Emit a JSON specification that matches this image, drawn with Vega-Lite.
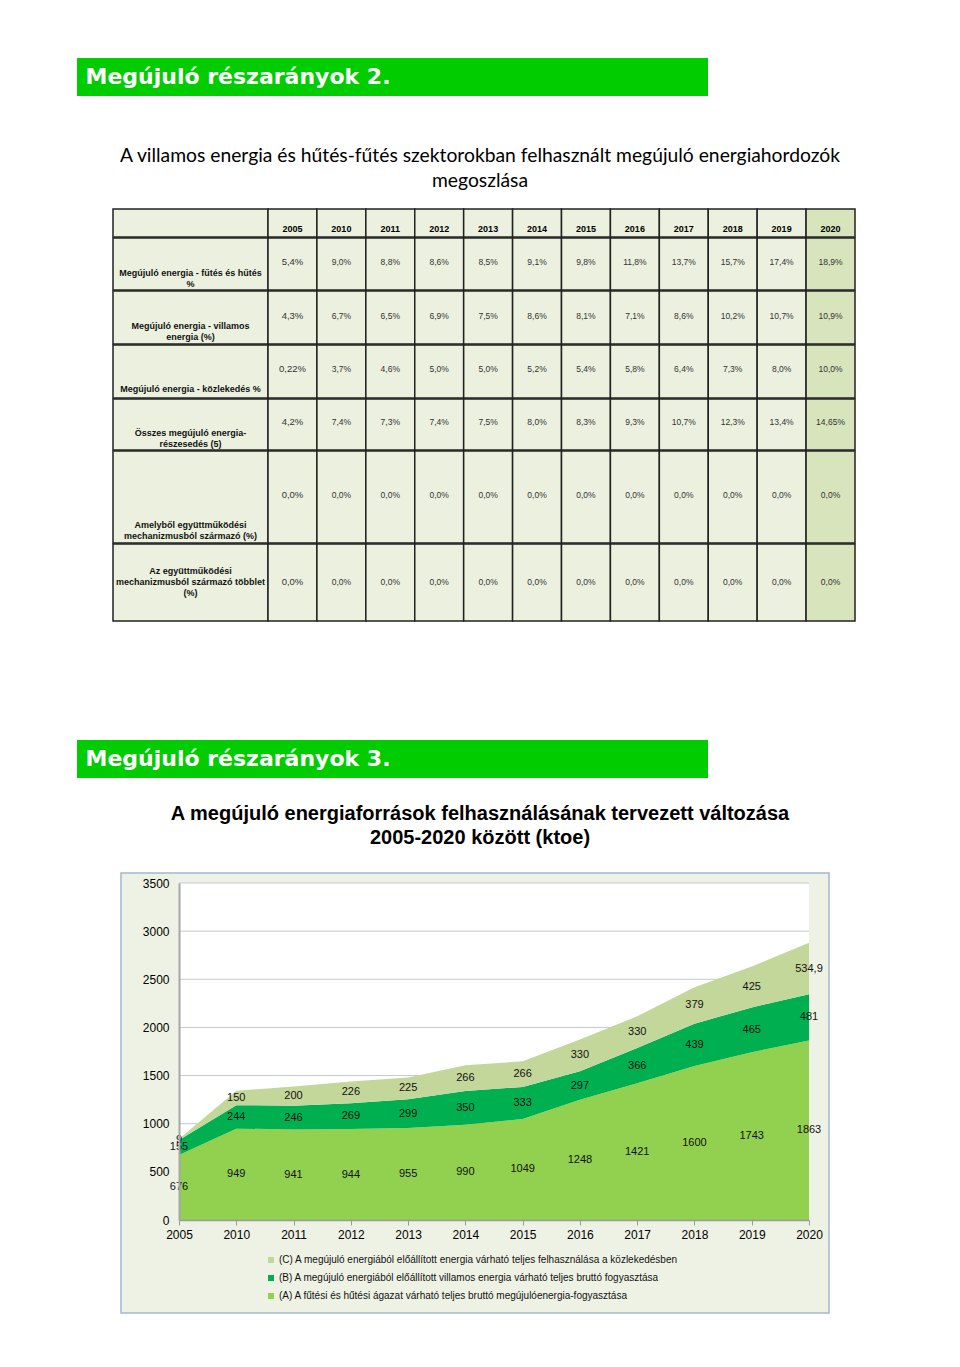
{
  "$schema": "https://vega.github.io/schema/vega-lite/v6.json",
  "padding": {"left": 77, "top": 58, "right": 0, "bottom": 0},
  "background": "white",
  "spacing": 0,
  "config": {
    "view": {"stroke": null},
    "font": "Liberation Sans",
    "locale": {"number": {"decimal": ",", "thousands": " ", "grouping": [3], "currency": ["", " Ft"]}}
  },
  "datasets": {
    "tbl": [
      {"r": 1, "year": "2005", "v": "5,4%"}, {"r": 1, "year": "2010", "v": "9,0%"}, {"r": 1, "year": "2011", "v": "8,8%"}, {"r": 1, "year": "2012", "v": "8,6%"}, {"r": 1, "year": "2013", "v": "8,5%"}, {"r": 1, "year": "2014", "v": "9,1%"}, {"r": 1, "year": "2015", "v": "9,8%"}, {"r": 1, "year": "2016", "v": "11,8%"}, {"r": 1, "year": "2017", "v": "13,7%"}, {"r": 1, "year": "2018", "v": "15,7%"}, {"r": 1, "year": "2019", "v": "17,4%"}, {"r": 1, "year": "2020", "v": "18,9%"},
      {"r": 2, "year": "2005", "v": "4,3%"}, {"r": 2, "year": "2010", "v": "6,7%"}, {"r": 2, "year": "2011", "v": "6,5%"}, {"r": 2, "year": "2012", "v": "6,9%"}, {"r": 2, "year": "2013", "v": "7,5%"}, {"r": 2, "year": "2014", "v": "8,6%"}, {"r": 2, "year": "2015", "v": "8,1%"}, {"r": 2, "year": "2016", "v": "7,1%"}, {"r": 2, "year": "2017", "v": "8,6%"}, {"r": 2, "year": "2018", "v": "10,2%"}, {"r": 2, "year": "2019", "v": "10,7%"}, {"r": 2, "year": "2020", "v": "10,9%"},
      {"r": 3, "year": "2005", "v": "0,22%"}, {"r": 3, "year": "2010", "v": "3,7%"}, {"r": 3, "year": "2011", "v": "4,6%"}, {"r": 3, "year": "2012", "v": "5,0%"}, {"r": 3, "year": "2013", "v": "5,0%"}, {"r": 3, "year": "2014", "v": "5,2%"}, {"r": 3, "year": "2015", "v": "5,4%"}, {"r": 3, "year": "2016", "v": "5,8%"}, {"r": 3, "year": "2017", "v": "6,4%"}, {"r": 3, "year": "2018", "v": "7,3%"}, {"r": 3, "year": "2019", "v": "8,0%"}, {"r": 3, "year": "2020", "v": "10,0%"},
      {"r": 4, "year": "2005", "v": "4,2%"}, {"r": 4, "year": "2010", "v": "7,4%"}, {"r": 4, "year": "2011", "v": "7,3%"}, {"r": 4, "year": "2012", "v": "7,4%"}, {"r": 4, "year": "2013", "v": "7,5%"}, {"r": 4, "year": "2014", "v": "8,0%"}, {"r": 4, "year": "2015", "v": "8,3%"}, {"r": 4, "year": "2016", "v": "9,3%"}, {"r": 4, "year": "2017", "v": "10,7%"}, {"r": 4, "year": "2018", "v": "12,3%"}, {"r": 4, "year": "2019", "v": "13,4%"}, {"r": 4, "year": "2020", "v": "14,65%"},
      {"r": 5, "year": "2005", "v": "0,0%"}, {"r": 5, "year": "2010", "v": "0,0%"}, {"r": 5, "year": "2011", "v": "0,0%"}, {"r": 5, "year": "2012", "v": "0,0%"}, {"r": 5, "year": "2013", "v": "0,0%"}, {"r": 5, "year": "2014", "v": "0,0%"}, {"r": 5, "year": "2015", "v": "0,0%"}, {"r": 5, "year": "2016", "v": "0,0%"}, {"r": 5, "year": "2017", "v": "0,0%"}, {"r": 5, "year": "2018", "v": "0,0%"}, {"r": 5, "year": "2019", "v": "0,0%"}, {"r": 5, "year": "2020", "v": "0,0%"},
      {"r": 6, "year": "2005", "v": "0,0%"}, {"r": 6, "year": "2010", "v": "0,0%"}, {"r": 6, "year": "2011", "v": "0,0%"}, {"r": 6, "year": "2012", "v": "0,0%"}, {"r": 6, "year": "2013", "v": "0,0%"}, {"r": 6, "year": "2014", "v": "0,0%"}, {"r": 6, "year": "2015", "v": "0,0%"}, {"r": 6, "year": "2016", "v": "0,0%"}, {"r": 6, "year": "2017", "v": "0,0%"}, {"r": 6, "year": "2018", "v": "0,0%"}, {"r": 6, "year": "2019", "v": "0,0%"}, {"r": 6, "year": "2020", "v": "0,0%"}
    ],
    "labels": [
      {"r": 0, "label": ""},
      {"r": 1, "label": "Megújuló energia - fűtés és hűtés\n%"},
      {"r": 2, "label": "Megújuló energia - villamos\nenergia (%)"},
      {"r": 3, "label": "Megújuló energia - közlekedés %"},
      {"r": 4, "label": "Összes megújuló energia-\nrészesedés (5)"},
      {"r": 5, "label": "Amelyből együttműködési\nmechanizmusból származó (%)"},
      {"r": 6, "label": "Az együttműködési\nmechanizmusból származó többlet\n(%)"}
    ],
    "chart": [
      {"year": "2005", "series": "(A) A fűtési és hűtési ágazat várható teljes bruttó megújulóenergia-fogyasztása", "value": 676},
      {"year": "2010", "series": "(A) A fűtési és hűtési ágazat várható teljes bruttó megújulóenergia-fogyasztása", "value": 949},
      {"year": "2011", "series": "(A) A fűtési és hűtési ágazat várható teljes bruttó megújulóenergia-fogyasztása", "value": 941},
      {"year": "2012", "series": "(A) A fűtési és hűtési ágazat várható teljes bruttó megújulóenergia-fogyasztása", "value": 944},
      {"year": "2013", "series": "(A) A fűtési és hűtési ágazat várható teljes bruttó megújulóenergia-fogyasztása", "value": 955},
      {"year": "2014", "series": "(A) A fűtési és hűtési ágazat várható teljes bruttó megújulóenergia-fogyasztása", "value": 990},
      {"year": "2015", "series": "(A) A fűtési és hűtési ágazat várható teljes bruttó megújulóenergia-fogyasztása", "value": 1049},
      {"year": "2016", "series": "(A) A fűtési és hűtési ágazat várható teljes bruttó megújulóenergia-fogyasztása", "value": 1248},
      {"year": "2017", "series": "(A) A fűtési és hűtési ágazat várható teljes bruttó megújulóenergia-fogyasztása", "value": 1421},
      {"year": "2018", "series": "(A) A fűtési és hűtési ágazat várható teljes bruttó megújulóenergia-fogyasztása", "value": 1600},
      {"year": "2019", "series": "(A) A fűtési és hűtési ágazat várható teljes bruttó megújulóenergia-fogyasztása", "value": 1743},
      {"year": "2020", "series": "(A) A fűtési és hűtési ágazat várható teljes bruttó megújulóenergia-fogyasztása", "value": 1863},
      {"year": "2005", "series": "(B) A megújuló energiából előállított villamos energia várható teljes bruttó fogyasztása", "value": 155},
      {"year": "2010", "series": "(B) A megújuló energiából előállított villamos energia várható teljes bruttó fogyasztása", "value": 244},
      {"year": "2011", "series": "(B) A megújuló energiából előállított villamos energia várható teljes bruttó fogyasztása", "value": 246},
      {"year": "2012", "series": "(B) A megújuló energiából előállított villamos energia várható teljes bruttó fogyasztása", "value": 269},
      {"year": "2013", "series": "(B) A megújuló energiából előállított villamos energia várható teljes bruttó fogyasztása", "value": 299},
      {"year": "2014", "series": "(B) A megújuló energiából előállított villamos energia várható teljes bruttó fogyasztása", "value": 350},
      {"year": "2015", "series": "(B) A megújuló energiából előállított villamos energia várható teljes bruttó fogyasztása", "value": 333},
      {"year": "2016", "series": "(B) A megújuló energiából előállított villamos energia várható teljes bruttó fogyasztása", "value": 297},
      {"year": "2017", "series": "(B) A megújuló energiából előállított villamos energia várható teljes bruttó fogyasztása", "value": 366},
      {"year": "2018", "series": "(B) A megújuló energiából előállított villamos energia várható teljes bruttó fogyasztása", "value": 439},
      {"year": "2019", "series": "(B) A megújuló energiából előállított villamos energia várható teljes bruttó fogyasztása", "value": 465},
      {"year": "2020", "series": "(B) A megújuló energiából előállított villamos energia várható teljes bruttó fogyasztása", "value": 481},
      {"year": "2005", "series": "(C) A megújuló energiából előállított energia várható teljes felhasználása a közlekedésben", "value": 9},
      {"year": "2010", "series": "(C) A megújuló energiából előállított energia várható teljes felhasználása a közlekedésben", "value": 150},
      {"year": "2011", "series": "(C) A megújuló energiából előállított energia várható teljes felhasználása a közlekedésben", "value": 200},
      {"year": "2012", "series": "(C) A megújuló energiából előállított energia várható teljes felhasználása a közlekedésben", "value": 226},
      {"year": "2013", "series": "(C) A megújuló energiából előállított energia várható teljes felhasználása a közlekedésben", "value": 225},
      {"year": "2014", "series": "(C) A megújuló energiából előállított energia várható teljes felhasználása a közlekedésben", "value": 266},
      {"year": "2015", "series": "(C) A megújuló energiából előállított energia várható teljes felhasználása a közlekedésben", "value": 266},
      {"year": "2016", "series": "(C) A megújuló energiából előállított energia várható teljes felhasználása a közlekedésben", "value": 330},
      {"year": "2017", "series": "(C) A megújuló energiából előállított energia várható teljes felhasználása a közlekedésben", "value": 330},
      {"year": "2018", "series": "(C) A megújuló energiából előállított energia várható teljes felhasználása a közlekedésben", "value": 379},
      {"year": "2019", "series": "(C) A megújuló energiából előállított energia várható teljes felhasználása a közlekedésben", "value": 425},
      {"year": "2020", "series": "(C) A megújuló energiából előállított energia várható teljes felhasználása a közlekedésben", "value": 534.9}
    ]
  },
  "vconcat": [
    {
      "width": 631, "height": 38,
      "view": {"fill": "#00cc00", "stroke": null},
      "data": {"values": [{"t": "Megújuló részarányok 2."}]},
      "mark": {"type": "text", "align": "left", "baseline": "middle", "dx": -307, "font": "DejaVu Sans", "fontWeight": "bold", "fontSize": 22, "color": "white"},
      "encoding": {"text": {"field": "t"}}
    },
    {
      "width": 806, "height": 112,
      "data": {"values": [{"t": "A villamos energia és hűtés-fűtés szektorokban felhasznált megújuló energiahordozók\nmegoszlása"}]},
      "mark": {"type": "text", "align": "center", "baseline": "middle", "lineBreak": "\n", "lineHeight": 25, "dy": 4, "font": "Lato", "fontSize": 19.3, "color": "black"},
      "encoding": {"text": {"field": "t"}}
    },
    {
      "spacing": 0,
      "hconcat": [
        {"width": 35, "height": 1, "data": {"values": []}, "mark": "text", "encoding": {}},
        {
          "spacing": -1.5,
          "vconcat": [
            {"spacing": 0, "bounds": "flush", "hconcat": [
              {"width": 155, "height": 28, "view": {"fill": "#ebf1de", "stroke": "#222", "strokeWidth": 1.5},
               "data": {"name": "labels"}, "transform": [{"filter": "datum.r == 0"}],
               "mark": {"type": "text", "fontSize": 9}, "encoding": {"text": {"field": "label"}}},
              {"width": 587, "height": 28, "data": {"name": "tbl"}, "transform": [{"filter": "datum.r == 1"}],
               "encoding": {"x": {"field": "year", "type": "ordinal", "axis": null, "scale": {"paddingInner": 0, "paddingOuter": 0}}},
               "layer": [
                 {"mark": {"type": "rect", "stroke": "#222", "strokeWidth": 1.5},
                  "encoding": {"fill": {"condition": {"test": "datum.year == '2020'", "value": "#d8e4bc"}, "value": "#ebf1de"}}},
                 {"mark": {"type": "text", "dy": 6, "fontWeight": "bold", "fontSize": 9, "color": "#000"},
                  "encoding": {"text": {"field": "year"}}}
               ]}
            ]},
            {"spacing": 0, "bounds": "flush", "hconcat": [
              {"width": 155, "height": 52, "view": {"fill": "#ebf1de", "stroke": "#222", "strokeWidth": 1.5},
               "data": {"name": "labels"}, "transform": [{"filter": "datum.r == 1"}],
               "mark": {"type": "text", "lineBreak": "\n", "lineHeight": 11, "dy": 8.5, "fontWeight": "bold", "fontSize": 9, "color": "#111"},
               "encoding": {"text": {"field": "label"}}},
              {"width": 587, "height": 52, "data": {"name": "tbl"}, "transform": [{"filter": "datum.r == 1"}],
               "encoding": {"x": {"field": "year", "type": "ordinal", "axis": null, "scale": {"paddingInner": 0, "paddingOuter": 0}}},
               "layer": [
                 {"mark": {"type": "rect", "stroke": "#222", "strokeWidth": 1.5},
                  "encoding": {"fill": {"condition": {"test": "datum.year == '2020'", "value": "#d8e4bc"}, "value": "#ebf1de"}}},
                 {"mark": {"type": "text", "dy": -2, "color": "#333"},
                  "encoding": {"text": {"field": "v"}, "size": {"condition": {"test": "datum.year == '2005'", "value": 9.5}, "value": 8.5}}}
               ]}
            ]},
            {"spacing": 0, "bounds": "flush", "hconcat": [
              {"width": 155, "height": 53, "view": {"fill": "#ebf1de", "stroke": "#222", "strokeWidth": 1.5},
               "data": {"name": "labels"}, "transform": [{"filter": "datum.r == 2"}],
               "mark": {"type": "text", "lineBreak": "\n", "lineHeight": 11, "dy": 8, "fontWeight": "bold", "fontSize": 9, "color": "#111"},
               "encoding": {"text": {"field": "label"}}},
              {"width": 587, "height": 53, "data": {"name": "tbl"}, "transform": [{"filter": "datum.r == 2"}],
               "encoding": {"x": {"field": "year", "type": "ordinal", "axis": null, "scale": {"paddingInner": 0, "paddingOuter": 0}}},
               "layer": [
                 {"mark": {"type": "rect", "stroke": "#222", "strokeWidth": 1.5},
                  "encoding": {"fill": {"condition": {"test": "datum.year == '2020'", "value": "#d8e4bc"}, "value": "#ebf1de"}}},
                 {"mark": {"type": "text", "dy": -2, "color": "#333"},
                  "encoding": {"text": {"field": "v"}, "size": {"condition": {"test": "datum.year == '2005'", "value": 9.5}, "value": 8.5}}}
               ]}
            ]},
            {"spacing": 0, "bounds": "flush", "hconcat": [
              {"width": 155, "height": 53, "view": {"fill": "#ebf1de", "stroke": "#222", "strokeWidth": 1.5},
               "data": {"name": "labels"}, "transform": [{"filter": "datum.r == 3"}],
               "mark": {"type": "text", "lineBreak": "\n", "lineHeight": 11, "dy": 17, "fontWeight": "bold", "fontSize": 9, "color": "#111"},
               "encoding": {"text": {"field": "label"}}},
              {"width": 587, "height": 53, "data": {"name": "tbl"}, "transform": [{"filter": "datum.r == 3"}],
               "encoding": {"x": {"field": "year", "type": "ordinal", "axis": null, "scale": {"paddingInner": 0, "paddingOuter": 0}}},
               "layer": [
                 {"mark": {"type": "rect", "stroke": "#222", "strokeWidth": 1.5},
                  "encoding": {"fill": {"condition": {"test": "datum.year == '2020'", "value": "#d8e4bc"}, "value": "#ebf1de"}}},
                 {"mark": {"type": "text", "dy": -3, "color": "#333"},
                  "encoding": {"text": {"field": "v"}, "size": {"condition": {"test": "datum.year == '2005'", "value": 9.5}, "value": 8.5}}}
               ]}
            ]},
            {"spacing": 0, "bounds": "flush", "hconcat": [
              {"width": 155, "height": 51, "view": {"fill": "#ebf1de", "stroke": "#222", "strokeWidth": 1.5},
               "data": {"name": "labels"}, "transform": [{"filter": "datum.r == 4"}],
               "mark": {"type": "text", "lineBreak": "\n", "lineHeight": 11, "dy": 8, "fontWeight": "bold", "fontSize": 9, "color": "#111"},
               "encoding": {"text": {"field": "label"}}},
              {"width": 587, "height": 51, "data": {"name": "tbl"}, "transform": [{"filter": "datum.r == 4"}],
               "encoding": {"x": {"field": "year", "type": "ordinal", "axis": null, "scale": {"paddingInner": 0, "paddingOuter": 0}}},
               "layer": [
                 {"mark": {"type": "rect", "stroke": "#222", "strokeWidth": 1.5},
                  "encoding": {"fill": {"condition": {"test": "datum.year == '2020'", "value": "#d8e4bc"}, "value": "#ebf1de"}}},
                 {"mark": {"type": "text", "dy": -3, "color": "#333"},
                  "encoding": {"text": {"field": "v"}, "size": {"condition": {"test": "datum.year == '2005'", "value": 9.5}, "value": 8.5}}}
               ]}
            ]},
            {"spacing": 0, "bounds": "flush", "hconcat": [
              {"width": 155, "height": 92, "view": {"fill": "#ebf1de", "stroke": "#222", "strokeWidth": 1.5},
               "data": {"name": "labels"}, "transform": [{"filter": "datum.r == 5"}],
               "mark": {"type": "text", "lineBreak": "\n", "lineHeight": 11, "dy": 28, "fontWeight": "bold", "fontSize": 9, "color": "#111"},
               "encoding": {"text": {"field": "label"}}},
              {"width": 587, "height": 92, "data": {"name": "tbl"}, "transform": [{"filter": "datum.r == 5"}],
               "encoding": {"x": {"field": "year", "type": "ordinal", "axis": null, "scale": {"paddingInner": 0, "paddingOuter": 0}}},
               "layer": [
                 {"mark": {"type": "rect", "stroke": "#222", "strokeWidth": 1.5},
                  "encoding": {"fill": {"condition": {"test": "datum.year == '2020'", "value": "#d8e4bc"}, "value": "#ebf1de"}}},
                 {"mark": {"type": "text", "dy": -2, "color": "#333"},
                  "encoding": {"text": {"field": "v"}, "size": {"condition": {"test": "datum.year == '2005'", "value": 9.5}, "value": 8.5}}}
               ]}
            ]},
            {"spacing": 0, "bounds": "flush", "hconcat": [
              {"width": 155, "height": 77, "view": {"fill": "#ebf1de", "stroke": "#222", "strokeWidth": 1.5},
               "data": {"name": "labels"}, "transform": [{"filter": "datum.r == 6"}],
               "mark": {"type": "text", "lineBreak": "\n", "lineHeight": 11, "dy": -12, "fontWeight": "bold", "fontSize": 9, "color": "#111"},
               "encoding": {"text": {"field": "label"}}},
              {"width": 587, "height": 77, "data": {"name": "tbl"}, "transform": [{"filter": "datum.r == 6"}],
               "encoding": {"x": {"field": "year", "type": "ordinal", "axis": null, "scale": {"paddingInner": 0, "paddingOuter": 0}}},
               "layer": [
                 {"mark": {"type": "rect", "stroke": "#222", "strokeWidth": 1.5},
                  "encoding": {"fill": {"condition": {"test": "datum.year == '2020'", "value": "#d8e4bc"}, "value": "#ebf1de"}}},
                 {"mark": {"type": "text", "dy": -1, "color": "#333"},
                  "encoding": {"text": {"field": "v"}, "size": {"condition": {"test": "datum.year == '2005'", "value": 9.5}, "value": 8.5}}}
               ]}
            ]}
          ]
        }
      ]
    },
    {"width": 1, "height": 118, "data": {"values": []}, "mark": "text", "encoding": {}},
    {
      "width": 631, "height": 38,
      "view": {"fill": "#00cc00", "stroke": null},
      "data": {"values": [{"t": "Megújuló részarányok 3."}]},
      "mark": {"type": "text", "align": "left", "baseline": "middle", "dx": -307, "font": "DejaVu Sans", "fontWeight": "bold", "fontSize": 22, "color": "white"},
      "encoding": {"text": {"field": "t"}}
    },
    {
      "width": 806, "height": 94,
      "data": {"values": [{"t": "A megújuló energiaforrások felhasználásának tervezett változása\n2005-2020 között (ktoe)"}]},
      "mark": {"type": "text", "align": "center", "baseline": "middle", "lineBreak": "\n", "lineHeight": 24, "dy": -11, "fontWeight": "bold", "fontSize": 20, "color": "black"},
      "encoding": {"text": {"field": "t"}}
    },
    {
      "spacing": 0,
      "hconcat": [
        {"width": 43, "height": 1, "data": {"values": []}, "mark": "text", "encoding": {}},
        {
          "width": 708, "height": 440,
          "view": {"fill": "#eef2e4", "stroke": "#a3b8d2", "strokeWidth": 1.5},
          "layer": [
            {
              "data": {"values": [{}]},
              "mark": {"type": "rect", "fill": "white"},
              "encoding": {
                "x": {"datum": "2005", "type": "ordinal", "scale": {"type": "point", "range": [58, 688], "padding": 0},
                      "axis": {"title": null, "orient": "bottom", "offset": -93, "zindex": 1, "labelAngle": 0, "labelFontSize": 12, "labelColor": "#000", "labelPadding": 4, "tickSize": 5, "tickColor": "#9a9a9a", "domainColor": "#9a9a9a", "domainWidth": 1.5, "grid": false}},
                "x2": {"datum": "2020"},
                "y": {"datum": 0, "type": "quantitative", "scale": {"domain": [0, 3500], "range": [347, 10], "nice": false, "zero": false},
                      "axis": {"title": null, "offset": -58, "zindex": 1, "values": [0, 500, 1000, 1500, 2000, 2500, 3000, 3500], "format": "d", "labelFontSize": 12, "labelColor": "#000", "labelPadding": 10, "ticks": false, "domainColor": "#a6a6a6", "domainWidth": 2, "grid": false}},
                "y2": {"datum": 3500}
              }
            },
            {
              "data": {"values": [{"g": 500}, {"g": 1000}, {"g": 1500}, {"g": 2000}, {"g": 2500}, {"g": 3000}, {"g": 3500}]},
              "mark": {"type": "rule", "color": "#c4c8cf", "strokeWidth": 1},
              "encoding": {
                "x": {"datum": "2005", "type": "ordinal", "scale": {"type": "point", "range": [58, 688], "padding": 0},
                      "axis": {"title": null, "orient": "bottom", "offset": -93, "zindex": 1, "labelAngle": 0, "labelFontSize": 12, "labelColor": "#000", "labelPadding": 4, "tickSize": 5, "tickColor": "#9a9a9a", "domainColor": "#9a9a9a", "domainWidth": 1.5, "grid": false}},
                "x2": {"datum": "2020"},
                "y": {"field": "g", "type": "quantitative", "scale": {"domain": [0, 3500], "range": [347, 10], "nice": false, "zero": false},
                      "axis": {"title": null, "offset": -58, "zindex": 1, "values": [0, 500, 1000, 1500, 2000, 2500, 3000, 3500], "format": "d", "labelFontSize": 12, "labelColor": "#000", "labelPadding": 10, "ticks": false, "domainColor": "#a6a6a6", "domainWidth": 2, "grid": false}}
              }
            },
            {
              "data": {"name": "chart"},
              "mark": {"type": "area", "opacity": 1},
              "encoding": {
                "x": {"field": "year", "type": "ordinal", "scale": {"type": "point", "range": [58, 688], "padding": 0},
                      "axis": {"title": null, "orient": "bottom", "offset": -93, "zindex": 1, "labelAngle": 0, "labelFontSize": 12, "labelColor": "#000", "labelPadding": 4, "tickSize": 5, "tickColor": "#9a9a9a", "domainColor": "#9a9a9a", "domainWidth": 1.5, "grid": false}},
                "y": {"field": "value", "type": "quantitative", "stack": "zero",
                      "scale": {"domain": [0, 3500], "range": [347, 10], "nice": false, "zero": false},
                      "axis": {"title": null, "offset": -58, "zindex": 1, "values": [0, 500, 1000, 1500, 2000, 2500, 3000, 3500], "format": "d", "labelFontSize": 12, "labelColor": "#000", "labelPadding": 10, "ticks": false, "domainColor": "#a6a6a6", "domainWidth": 2, "grid": false}},
                "color": {"field": "series", "type": "nominal",
                          "scale": {"domain": ["(C) A megújuló energiából előállított energia várható teljes felhasználása a közlekedésben", "(B) A megújuló energiából előállított villamos energia várható teljes bruttó fogyasztása", "(A) A fűtési és hűtési ágazat várható teljes bruttó megújulóenergia-fogyasztása"], "range": ["#c4d79b", "#00b050", "#92d050"]},
                          "legend": {"orient": "none", "legendX": 189, "legendY": 1197, "title": null, "direction": "vertical", "symbolType": "square", "symbolSize": 36, "symbolStrokeWidth": 0, "labelFontSize": 10, "labelColor": "#111", "labelLimit": 700, "labelOffset": 3, "rowPadding": 8}},
                "order": {"field": "series", "sort": "ascending"}
              }
            },
            {
              "data": {"name": "chart"},
              "transform": [
                {"stack": "value", "groupby": ["year"], "sort": [{"field": "series", "order": "ascending"}], "as": ["y0", "y1"]},
                {"fold": ["y0", "y1"], "as": ["edge", "edgeValue"]}
              ],
              "mark": {"type": "text", "fontSize": 11, "color": "#111", "baseline": "middle"},
              "encoding": {
                "x": {"field": "year", "type": "ordinal", "scale": {"type": "point", "range": [58, 688], "padding": 0},
                      "axis": {"title": null, "orient": "bottom", "offset": -93, "zindex": 1, "labelAngle": 0, "labelFontSize": 12, "labelColor": "#000", "labelPadding": 4, "tickSize": 5, "tickColor": "#9a9a9a", "domainColor": "#9a9a9a", "domainWidth": 1.5, "grid": false}},
                "y": {"field": "edgeValue", "type": "quantitative", "aggregate": "mean", "scale": {"domain": [0, 3500], "range": [347, 10], "nice": false, "zero": false},
                      "axis": {"title": null, "offset": -58, "zindex": 1, "values": [0, 500, 1000, 1500, 2000, 2500, 3000, 3500], "format": "d", "labelFontSize": 12, "labelColor": "#000", "labelPadding": 10, "ticks": false, "domainColor": "#a6a6a6", "domainWidth": 2, "grid": false}},
                "text": {"field": "value", "type": "quantitative", "format": "~g"},
                "detail": {"field": "series", "type": "nominal"}
              }
            }
          ]
        }
      ]
    }
  ]
}
